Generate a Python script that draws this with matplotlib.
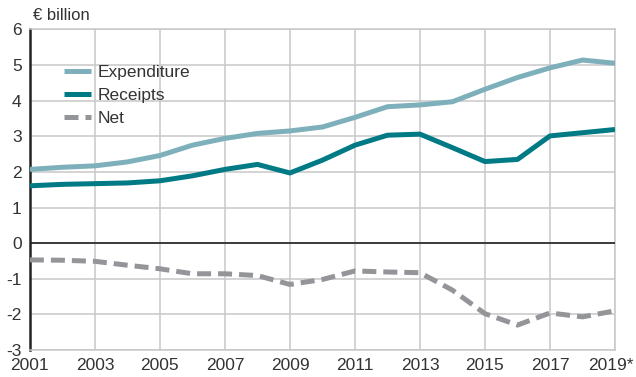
import matplotlib
matplotlib.use("Agg")
import matplotlib.pyplot as plt
from matplotlib.transforms import ScaledTranslation

years = list(range(2001, 2020))
expenditure = [2.07, 2.13, 2.17, 2.28, 2.46, 2.75, 2.94, 3.08, 3.15, 3.26,
               3.53, 3.83, 3.88, 3.97, 4.32, 4.65, 4.92, 5.14, 5.05]
receipts = [1.61, 1.65, 1.67, 1.69, 1.75, 1.89, 2.07, 2.21, 1.97, 2.33,
            2.75, 3.03, 3.06, 2.68, 2.29, 2.35, 3.01, 3.10, 3.19]
net = [-0.47, -0.48, -0.51, -0.62, -0.72, -0.86, -0.86, -0.91, -1.16, -1.02,
       -0.78, -0.81, -0.83, -1.32, -1.98, -2.30, -1.96, -2.07, -1.90]
tick_years = list(range(2001, 2020, 2))
tick_labels = [str(y) for y in tick_years[:-1]] + ["2019*"]
y_ticks = list(range(-3, 7))
y_labels = [str(v) for v in y_ticks]
series_names = ["Expenditure", "Receipts", "Net"]

plt.rcParams["font.family"] = ["Liberation Sans", "DejaVu Sans"]
text_color = "#333333"

fig = plt.figure(figsize=(6.36, 3.77), dpi=100)
ax = fig.add_axes([0.047, 0.0716, 0.920, 0.8504])

ax.plot(years, expenditure, color="#7eb0bb", lw=3.6, solid_capstyle="butt",
        label=series_names[0], zorder=4)
ax.plot(years, receipts, color="#007a85", lw=3.6, solid_capstyle="butt",
        label=series_names[1], zorder=4)
ax.plot(years, net, color="#949599", lw=3.6, dashes=(2.8, 1.4),
        label=series_names[2], zorder=4)

ax.set_xlim(2001, 2019)
ax.set_ylim(-3, 6)
ax.set_xticks(tick_years)
ax.set_xticklabels(tick_labels)
ax.set_yticks(y_ticks)
ax.set_yticklabels(y_labels)
ax.tick_params(length=0, labelsize=12.5, colors=text_color, pad=6)
ax.tick_params(axis="y", pad=6)

# keep the starred final year inside the canvas
last = ax.get_xticklabels()[-1]
last.set_transform(last.get_transform() + ScaledTranslation(-3 / 72, 0, fig.dpi_scale_trans))

ax.grid(True, color="#c8c8c8", lw=1.1, zorder=0)
for side in ["top", "right", "bottom"]:
    ax.spines[side].set_color("#c8c8c8")
    ax.spines[side].set_linewidth(1.1)
ax.spines["left"].set_color("#222222")
ax.spines["left"].set_linewidth(1.8)
ax.axhline(0, color="#222222", lw=1.2, zorder=3)

ax.text(0.005, 1.02, "€ billion", transform=ax.transAxes, fontsize=12,
        color=text_color, ha="left", va="bottom")

leg = ax.legend(loc="upper left", bbox_to_anchor=(0.047, 0.91), frameon=False,
                fontsize=12.5, handlelength=1.55, handletextpad=0.35,
                labelspacing=0.45, borderaxespad=0)
for t in leg.get_texts():
    t.set_color(text_color)

fig.savefig("out.png", dpi=100)
